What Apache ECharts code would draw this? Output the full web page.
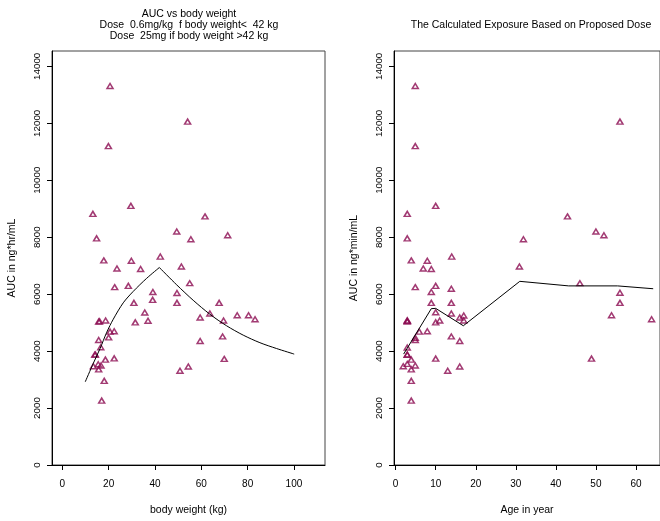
<!DOCTYPE html>
<html>
<head>
<meta charset="utf-8">
<script src="https://cdn.jsdelivr.net/npm/echarts@6/dist/echarts.min.js"></script>
<style>
html,body{margin:0;padding:0;background:#fff;}
#chart{width:660px;height:521px;}
</style>
</head>
<body>
<div id="chart"></div>
<script>
// ---- data ----
const weightKg = [20.6,54.1,19.9,29.6,13.2,61.6,49.4,71.4,14.8,55.5,42.3,17.9,29.8,23.6,33.8,51.4,22.6,28.5,55.0,39.1,49.5,30.9,39.0,49.5,67.7,35.6,59.5,63.7,69.6,75.5,80.4,83.2,15.7,16.1,18.7,31.5,37.0,20.6,22.4,20.0,15.7,16.6,14.0,14.3,59.5,69.2,69.9,18.6,22.4,13.4,15.5,16.7,15.7,50.8,54.4,18.1,17.0];
const weightAUC = [13310,12060,11200,9100,8820,8730,8200,8070,7960,7930,7320,7185,7175,6900,6885,6970,6245,6290,6385,6075,6040,5695,5800,5695,5695,5355,5180,5320,5075,5260,5260,5120,5040,5045,5075,5010,5065,4685,4695,4480,4390,4135,3875,3880,4355,4515,3725,3700,3745,3470,3540,3495,3360,3310,3460,2955,2260];

const ageYr = [4.9,56.0,4.9,10.0,2.9,42.9,50.0,52.0,2.9,31.9,14.0,3.9,7.9,6.9,8.9,30.9,4.9,10.0,46.0,8.9,13.9,56.0,8.9,13.9,56.0,10.0,13.9,17.0,16.0,53.9,63.9,2.9,2.9,2.9,11.0,17.0,10.0,5.9,7.9,4.9,4.9,13.9,16.0,2.9,2.9,2.9,10.0,48.9,3.9,1.9,2.9,4.9,3.9,13.0,16.0,3.9,3.9];
const ageAUC = [13310,12060,11200,9100,8820,8730,8200,8070,7960,7930,7320,7185,7175,6900,6885,6970,6245,6290,6385,6075,6190,6050,5695,5695,5695,5365,5320,5250,5180,5260,5120,5040,5060,5080,5075,5075,5010,4685,4695,4470,4390,4515,4355,4125,3870,3880,3735,3735,3700,3470,3550,3495,3360,3310,3460,2955,2260];

// predicted curve vs weight: rising branch (< 42 kg) and falling branch (> 42 kg)
const weightRiseX = [9.9,13.4,16.3,19.2,22.0,26.3,30.6,36.4,41.9];
const weightRiseY = [2920,3575,4090,4665,5120,5695,6095,6555,6935];
const weightFallX = [41.9,49.4,56.5,63.7,70.9,78.1,85.3,92.5,100.1];
const weightFallY = [6935,6325,5785,5295,4890,4560,4295,4090,3895];

const ageCurveX = [2.0,8.9,10.0,16.9,31.0,43.2,55.4,64.3];
const ageCurveY = [3895,5490,5500,4890,6450,6290,6290,6190];

const weightTicks = [0,20,40,60,80,100];
const ageTicks = [0,10,20,30,40,50,60];

const leftTitle = ['AUC vs body weight', 'Dose  0.6mg/kg  f body weight<  42 kg', 'Dose  25mg if body weight >42 kg'];
const rightTitle = 'The Calculated Exposure Based on Proposed Dose';

// ---- chart ----
const FONT = '"Liberation Sans", Arial, Helvetica, sans-serif';
const PT = '#8B0A50';
const zip = (a, b) => a.map((v, i) => [v, b[i]]);

function xAx(idx, min, max, ticks, name) {
  return {
    type: 'value', gridIndex: idx, min: min, max: max,
    name: name, nameLocation: 'middle', nameGap: 40,
    nameTextStyle: {fontFamily: FONT, fontSize: 10.5, color: '#000'},
    axisLine: {show: true, onZero: false, lineStyle: {color: '#000', width: 1}},
    axisTick: {show: true, customValues: ticks, length: 5, lineStyle: {color: '#000'}},
    axisLabel: {show: true, customValues: ticks, margin: 14, fontFamily: FONT, fontSize: 10, color: '#000',
      formatter: v => String(v)},
    splitLine: {show: false}
  };
}
function yAx(idx, name) {
  return {
    type: 'value', gridIndex: idx, min: 0, max: 14539, interval: 2000,
    name: name, nameLocation: 'middle', nameGap: 34,
    nameTextStyle: {fontFamily: FONT, fontSize: 10.5, color: '#000'},
    axisLine: {show: true, onZero: false, lineStyle: {color: '#000', width: 1}},
    axisTick: {show: true, length: 5, lineStyle: {color: '#000'}},
    axisLabel: {show: true, rotate: 90, margin: 10, fontFamily: FONT, fontSize: 9.8, color: '#000',
      formatter: v => String(v)},
    splitLine: {show: false}
  };
}
function curve(xi, data, smooth) {
  return {type: 'line', xAxisIndex: xi, yAxisIndex: xi, data: data, smooth: smooth,
    showSymbol: false, symbol: 'none', lineStyle: {color: '#000', width: 1}};
}
function points(xi, data) {
  return {type: 'scatter', xAxisIndex: xi, yAxisIndex: xi, data: data,
    symbol: 'triangle', symbolSize: [6, 5],
    itemStyle: {color: 'rgba(255,255,255,0)', borderColor: PT, borderWidth: 1.5}};
}

const chart = echarts.init(document.getElementById('chart'), null, {renderer: 'canvas'});
chart.setOption({
  animation: false,
  backgroundColor: '#fff',
  grid: [
    {left: 52, top: 51, width: 273, height: 423, show: true, borderColor: '#444', borderWidth: 1, backgroundColor: 'transparent'},
    {left: 394, top: 51, width: 273, height: 423, show: true, borderColor: '#444', borderWidth: 1, backgroundColor: 'transparent'}
  ],
  xAxis: [
    xAx(0, -4.45, 113.4, weightTicks, 'body weight (kg)'),
    xAx(1, -0.41, 66.0, ageTicks, 'Age in year')
  ],
  yAxis: [
    yAx(0, 'AUC in ng*hr/mL'),
    yAx(1, 'AUC in ng*min/mL')
  ],
  graphic: [
    {type: 'text', x: 189, y: 14, style: {text: leftTitle[0], textAlign: 'center', textVerticalAlign: 'middle', font: '10.5px ' + FONT, fill: '#000'}},
    {type: 'text', x: 189, y: 25, style: {text: leftTitle[1], textAlign: 'center', textVerticalAlign: 'middle', font: '10.5px ' + FONT, fill: '#000'}},
    {type: 'text', x: 189, y: 36, style: {text: leftTitle[2], textAlign: 'center', textVerticalAlign: 'middle', font: '10.5px ' + FONT, fill: '#000'}},
    {type: 'text', x: 531, y: 25, style: {text: rightTitle, textAlign: 'center', textVerticalAlign: 'middle', font: '10.5px ' + FONT, fill: '#000'}}
  ],
  series: [
    points(0, zip(weightKg, weightAUC)),
    curve(0, zip(weightRiseX, weightRiseY), 0.3),
    curve(0, zip(weightFallX, weightFallY), 0.3),
    points(1, zip(ageYr, ageAUC)),
    curve(1, zip(ageCurveX, ageCurveY), false)
  ]
});
</script>
</body>
</html>
